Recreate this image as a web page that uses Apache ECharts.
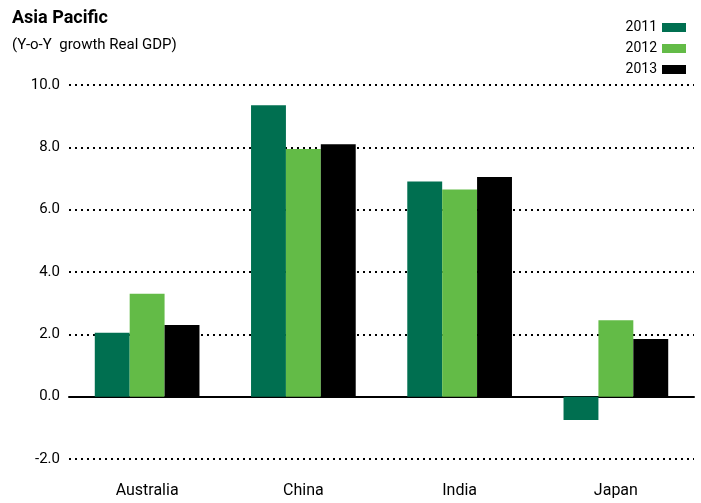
<!DOCTYPE html>
<html>
<head>
<meta charset="utf-8">
<script src="https://cdn.jsdelivr.net/npm/echarts@6/dist/echarts.min.js"></script>
<style>
html, body { margin:0; padding:0; background:#fff; }
#view1 { width:701px; height:503px; }
</style>
</head>
<body>
<div id="view1"></div>
<script>
"use strict";
var countries = ['Australia', 'China', 'India', 'Japan'];
var years = ['2011', '2012', '2013'];
var g2011 = [2.05, 9.35, 6.9, -0.75];
var g2012 = [3.3, 7.95, 6.65, 2.45];
var g2013 = [2.3, 8.1, 7.05, 1.85];
var colors = ['#006f50', '#63bb47', '#000000'];

var font = "Roboto";
var values = [g2011, g2012, g2013];

var series = years.map(function(y, i){
	return { name:y, type:'bar', data:values[i], barGap:'0%', barCategoryGap:'33%',
		itemStyle:{ color:colors[i] } };
});

var option = {
	animation: false,
	title: { text:'Asia Pacific', subtext:'(Y-o-Y  growth Real GDP)', left:7, top:4, itemGap:11,
		textStyle:{ fontFamily:font, fontWeight:'bold', fontSize:18, color:'#000' },
		subtextStyle:{ fontFamily:font, fontSize:15, color:'#000' } },
	legend: { orient:'vertical', right:10, top:15, align:'right', itemWidth:24, itemHeight:9, itemGap:6,
		icon:'rect', data:years, textStyle:{ fontFamily:font, fontSize:14, lineHeight:15, color:'#000' } },
	grid: { left:69, right:7, top:85, bottom:44, outerBoundsMode:'none', containLabel:false },
	xAxis: { type:'category', data:countries,
		axisLine:{ onZero:true, lineStyle:{ color:'#000', width:2 } },
		axisTick:{ show:false },
		axisLabel:{ fontFamily:font, fontSize:16, color:'#000', margin:24 } },
	yAxis: { type:'value', min:-2, max:10, interval:2,
		axisLine:{ show:false }, axisTick:{ show:false },
		axisLabel:{ fontFamily:font, fontSize:15, color:'#000', margin:9,
			formatter:function(v){ return v.toFixed(1); } },
		splitLine:{ lineStyle:{ color:'#000', width:2, type:[2,4] } } },
	series: series
};
echarts.init(document.getElementById('view1')).setOption(option);
</script>
</body>
</html>
